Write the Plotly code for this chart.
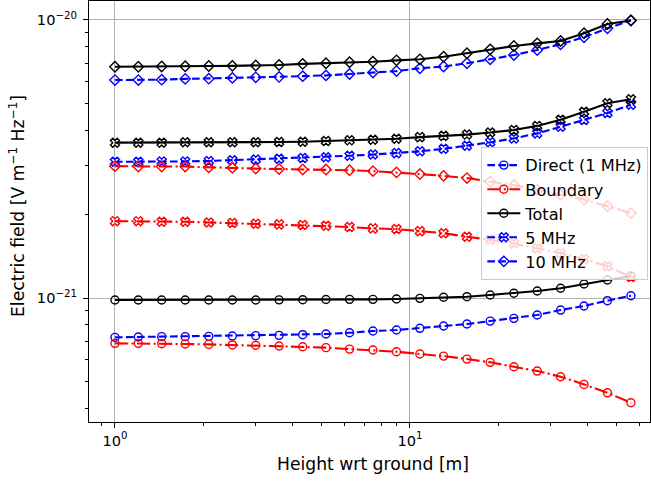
import numpy as np
import plotly.graph_objects as go

# Heights [m]
height = [1.0, 1.2, 1.44, 1.73, 2.08, 2.5, 3.0, 3.6, 4.33, 5.19, 6.24, 7.49,
          9.0, 10.8, 13.0, 15.6, 18.7, 22.5, 27.0, 32.4, 38.9, 46.7, 56.1]

# Electric field values in units of 1e-21 V m^-1 Hz^-1
direct_1 = [0.722, 0.724, 0.726, 0.726, 0.728, 0.730, 0.732, 0.734, 0.738, 0.742,
            0.750, 0.761, 0.767, 0.778, 0.793, 0.806, 0.826, 0.845, 0.869, 0.905,
            0.936, 0.978, 1.019]
boundary_1 = [0.687, 0.687, 0.685, 0.683, 0.681, 0.678, 0.676, 0.672, 0.668, 0.663,
              0.655, 0.650, 0.641, 0.629, 0.618, 0.603, 0.587, 0.566, 0.546, 0.521,
              0.489, 0.456, 0.420]
total_1 = [0.984, 0.984, 0.984, 0.984, 0.984, 0.984, 0.984, 0.985, 0.986, 0.988,
           0.989, 0.989, 0.992, 0.997, 1.006, 1.011, 1.025, 1.040, 1.060, 1.084,
           1.123, 1.161, 1.200]

direct_5 = [3.09, 3.09, 3.10, 3.10, 3.11, 3.13, 3.15, 3.17, 3.19, 3.21,
            3.25, 3.28, 3.32, 3.37, 3.44, 3.53, 3.63, 3.75, 3.91, 4.13,
            4.37, 4.63, 4.96]
boundary_5 = [1.89, 1.89, 1.88, 1.88, 1.87, 1.86, 1.85, 1.84, 1.83, 1.82,
              1.80, 1.78, 1.77, 1.74, 1.71, 1.66, 1.62, 1.57, 1.51, 1.45,
              1.38, 1.30, 1.19]
total_5 = [3.62, 3.62, 3.62, 3.63, 3.63, 3.63, 3.63, 3.64, 3.65, 3.67,
           3.69, 3.71, 3.74, 3.79, 3.83, 3.87, 3.94, 4.02, 4.16, 4.38,
           4.68, 5.02, 5.19]

direct_10 = [6.08, 6.08, 6.10, 6.14, 6.15, 6.19, 6.22, 6.24, 6.28, 6.32,
             6.39, 6.47, 6.55, 6.70, 6.80, 6.99, 7.22, 7.48, 7.80, 8.18,
             8.67, 9.33, 9.97]
boundary_10 = [2.98, 2.97, 2.97, 2.97, 2.95, 2.94, 2.92, 2.91, 2.90, 2.90,
               2.88, 2.86, 2.83, 2.79, 2.75, 2.70, 2.62, 2.55, 2.45, 2.35,
               2.26, 2.14, 2.02]
total_10 = [6.79, 6.79, 6.80, 6.82, 6.83, 6.84, 6.86, 6.89, 6.95, 6.99,
            7.05, 7.08, 7.16, 7.22, 7.38, 7.59, 7.84, 8.06, 8.24, 8.40,
            8.96, 9.67, 9.96]

UNIT = 1e-21

x_major = [1, 10]
x_major_text = ["10<sup>0</sup>", "10<sup>1</sup>"]
x_minor = [0.9, 2, 3, 4, 5, 6, 7, 8, 9, 20, 30, 40, 50, 60]
y_major = [1e-21, 1e-20]
y_major_text = ["10<sup>\u221221</sup>", "10<sup>\u221220</sup>"]
y_minor = [4e-22, 5e-22, 6e-22, 7e-22, 8e-22, 9e-22,
           2e-21, 3e-21, 4e-21, 5e-21, 6e-21, 7e-21, 8e-21, 9e-21]

FONT = "DejaVu Sans"
BLUE, RED, BLACK = "#0000ff", "#ff0000", "#000000"
DASH = "7.7px,3.3px"
DASHDOT = "13.3px,3.3px,2.1px,3.3px"

series = [
    (direct_1, BLUE, DASH, "circle-open", "Direct (1 MHz)", True),
    (boundary_1, RED, DASHDOT, "circle-open", "Boundary", True),
    (total_1, BLACK, "solid", "circle-open", "Total", True),
    (direct_5, BLUE, DASH, "x-open", "5 MHz", True),
    (boundary_5, RED, DASHDOT, "x-open", "Boundary 5 MHz", False),
    (total_5, BLACK, "solid", "x-open", "Total 5 MHz", False),
    (direct_10, BLUE, DASH, "diamond-open", "10 MHz", True),
    (boundary_10, RED, DASHDOT, "diamond-open", "Boundary 10 MHz", False),
    (total_10, BLACK, "solid", "diamond-open", "Total 10 MHz", False),
]

fig = go.Figure()
for vals, color, dash, sym, name, show in series:
    fig.add_trace(go.Scatter(
        x=height, y=np.array(vals) * UNIT, mode="lines+markers", name=name,
        showlegend=show,
        line=dict(color=color, width=2.1, dash=dash),
        marker=dict(symbol=sym, size=8, color=color,
                    line=dict(color=color, width=1.4)),
    ))

axis_common = dict(
    type="log", showline=True, linecolor="black", linewidth=1.1, mirror=True,
    ticks="outside", ticklen=5, tickwidth=1.1, tickcolor="black",
    showgrid=True, gridcolor="#b0b0b0", gridwidth=1, zeroline=False,
    automargin=False,
    tickfont=dict(family=FONT, size=14.6, color="black"),
)

fig.update_xaxes(
    **axis_common, range=[-0.088, 1.8136], tickmode="array",
    tickvals=x_major, ticktext=x_major_text,
    minor=dict(tickmode="array", tickvals=x_minor, ticks="outside", ticklen=3,
               tickwidth=0.8, tickcolor="black", showgrid=False),
)
fig.update_yaxes(
    **axis_common, range=[-21.446, -19.9317], tickmode="array",
    tickvals=y_major, ticktext=y_major_text, ticklabelstandoff=3,
    minor=dict(tickmode="array", tickvals=y_minor, ticks="outside", ticklen=3,
               tickwidth=0.8, tickcolor="black", showgrid=False),
)

fig.update_layout(
    width=651, height=482,
    margin=dict(l=89, r=1, t=1, b=60, autoexpand=False),
    paper_bgcolor="white", plot_bgcolor="white",
    font=dict(family=FONT, color="black"),
    showlegend=True,
    legend=dict(
        x=0.997, y=0.653, xanchor="right", yanchor="top",
        bgcolor="rgba(255,255,255,0.8)", bordercolor="#cccccc", borderwidth=1,
        font=dict(family=FONT, size=16.2, color="black"),
        itemwidth=33,
    ),
    annotations=[
        dict(text="Height wrt ground [m]", xref="paper", yref="paper",
             x=(373 - 89) / 561, y=(422 - 464) / 421, xanchor="center",
             yanchor="middle", showarrow=False,
             font=dict(family=FONT, size=17.2, color="black")),
        dict(text="Electric field [V m<sup>\u22121</sup> Hz<sup>\u22121</sup>]",
             xref="paper", yref="paper", x=(17 - 89) / 561, y=(422 - 206) / 421,
             xanchor="center", yanchor="middle", textangle=-90, showarrow=False,
             font=dict(family=FONT, size=17.2, color="black")),
    ],
)

fig.write_html(
    "out.html",
    config={"displayModeBar": False},
    post_script="document.body.style.margin='0';document.body.style.padding='0';",
)
